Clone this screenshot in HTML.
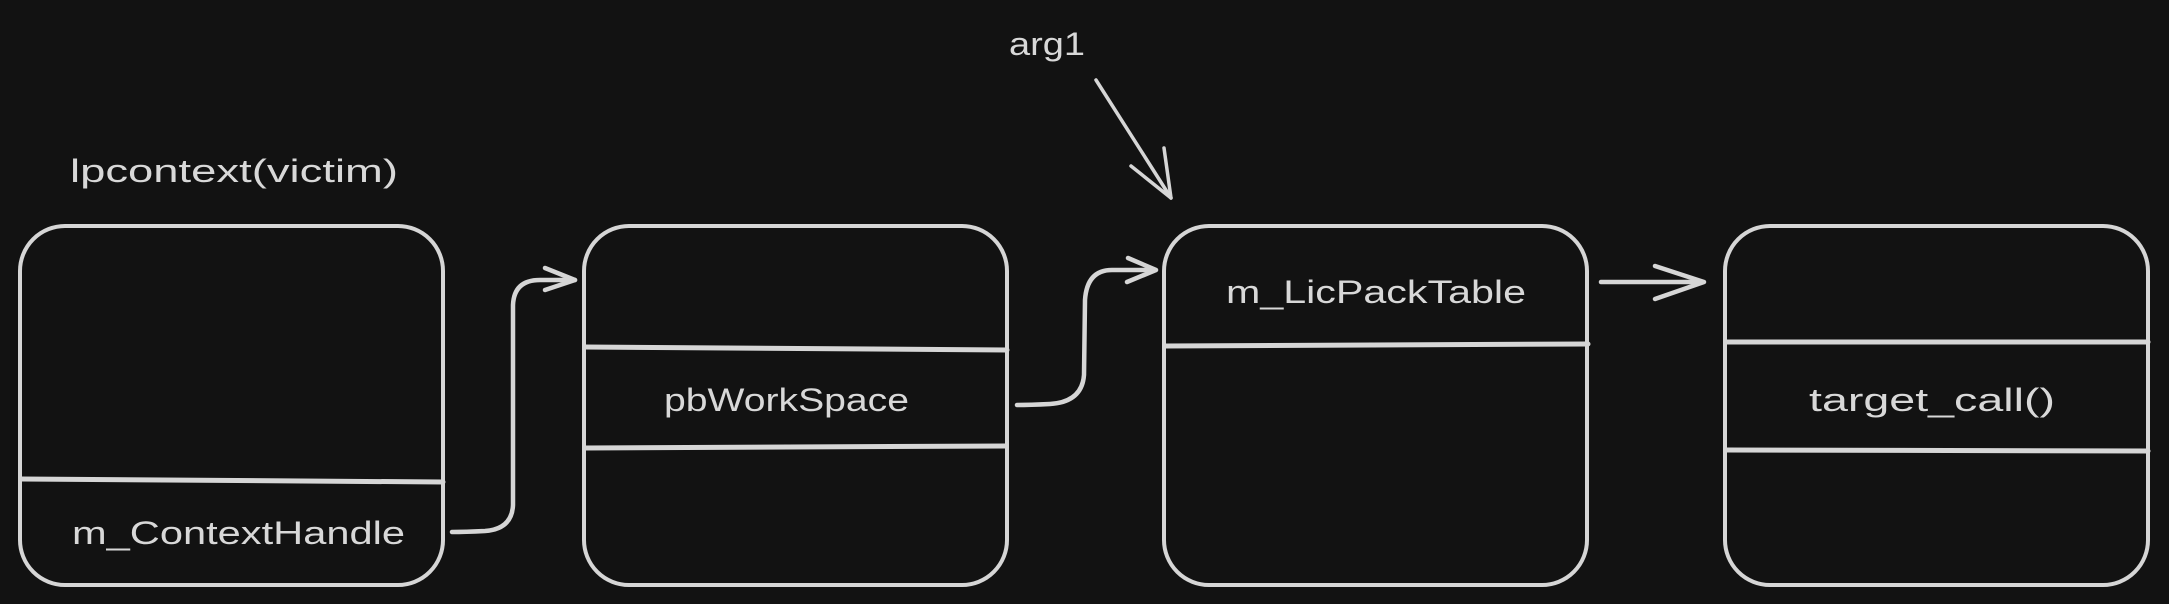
<!DOCTYPE html>
<html><head><meta charset="utf-8"><style>
html,body{margin:0;padding:0;background:#121212;}
svg{display:block}
text{font-family:"Liberation Sans",sans-serif;fill:#d8d8d8;}
</style></head><body>
<svg width="2169" height="604" viewBox="0 0 2169 604" xmlns="http://www.w3.org/2000/svg">
<rect width="2169" height="604" fill="#121212"/>
<g fill="none" stroke="#d6d6d6" stroke-width="4" stroke-linecap="round" stroke-linejoin="round">
  <rect x="20" y="226" width="423" height="359" rx="45"/>
  <line x1="21" y1="479" x2="443" y2="482" stroke-width="5"/>
  <rect x="584" y="226" width="423" height="359" rx="45"/>
  <line x1="585" y1="347" x2="1007" y2="350" stroke-width="5"/>
  <line x1="585" y1="448" x2="1006" y2="446" stroke-width="5"/>
  <rect x="1164" y="226" width="423" height="359" rx="45"/>
  <line x1="1165" y1="346" x2="1588" y2="344" stroke-width="5"/>
  <rect x="1725" y="226" width="423" height="359" rx="45"/>
  <line x1="1726" y1="342" x2="2148" y2="342" stroke-width="5"/>
  <line x1="1726" y1="450" x2="2148" y2="451" stroke-width="5"/>
  <!-- arrow 1 -->
  <path d="M452,532 Q465,532 485,531 Q512,529 513,505 L513,305 Q514,280 540,280 L575,280" stroke-width="4.5"/>
  <path d="M545,268 L575,280 L545,290" stroke-width="4.5"/>
  <!-- arrow 2 -->
  <path d="M1017,405 Q1030,405 1050,404 Q1082,402 1084,375 L1085,300 Q1087,270 1112,270 L1155,270" stroke-width="4.5"/>
  <path d="M1128,258 L1156,270 L1127,282" stroke-width="4.5"/>
  <!-- arrow 3 -->
  <path d="M1601,282 L1703,282" stroke-width="4.5"/>
  <path d="M1655,266 L1704,282 L1655,299" stroke-width="4.5"/>
  <!-- arg1 arrow -->
  <path d="M1096,80 L1171,198" stroke-width="3.5"/>
  <path d="M1131,166 L1171,198 L1164,148" stroke-width="3.5"/>
</g>
<text x="70" y="182" font-size="32" textLength="328" lengthAdjust="spacingAndGlyphs">lpcontext(victim)</text>
<text x="1009" y="55" font-size="32" textLength="76" lengthAdjust="spacingAndGlyphs">arg1</text>
<text x="72" y="544" font-size="32" textLength="333" lengthAdjust="spacingAndGlyphs">m_ContextHandle</text>
<text x="664" y="411" font-size="32" textLength="245" lengthAdjust="spacingAndGlyphs">pbWorkSpace</text>
<text x="1226" y="303" font-size="32" textLength="300" lengthAdjust="spacingAndGlyphs">m_LicPackTable</text>
<text x="1809" y="411" font-size="32" textLength="246" lengthAdjust="spacingAndGlyphs">target_call()</text>
</svg>
</body></html>
